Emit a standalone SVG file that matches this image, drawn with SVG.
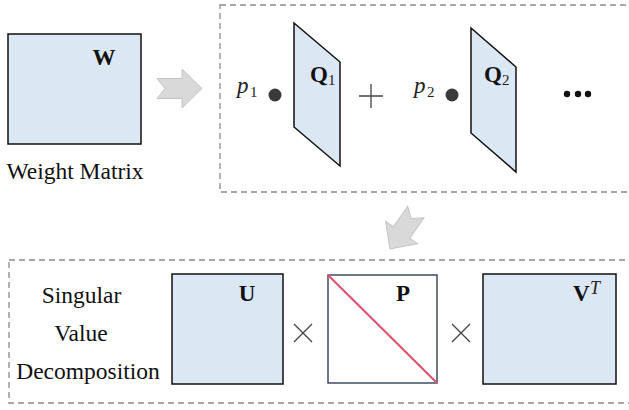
<svg xmlns="http://www.w3.org/2000/svg" width="629" height="410" viewBox="0 0 629 410">
<defs>
<style>
.mat{fill:#dce7f4;stroke:#111;stroke-width:1.5}
.dash{fill:none;stroke:#8a8a8a;stroke-width:1.3;stroke-dasharray:6 4}
.arrow{fill:#d9d9d9;stroke:#c4c4c4;stroke-width:1}
.op{stroke:#444;stroke-width:1.3;fill:none}
text{font-family:'Liberation Serif','DejaVu Serif',serif;fill:#111}
.txt{font-size:23.5px}
.lbl{font-weight:bold;font-size:23px}
.mth{font-style:italic;font-size:23px;fill:#222}
.sub{font-size:15px;fill:#222}
</style>
<path id="chev" d="M-25,-10 L0,-10 L0,-19.5 L20,0 L0,19.5 L0,10 L-25,10 L-17,0 Z"/>
</defs>

<g id="frames">
<rect class="dash" x="220" y="5" width="415" height="187"/>
<rect class="dash" x="9" y="260" width="626" height="143"/>
</g>

<g id="weight-matrix">
<rect class="mat" x="8" y="34" width="133" height="110"/>
<text class="lbl" x="104" y="65" text-anchor="middle">W</text>
<text class="txt" x="75" y="179" text-anchor="middle">Weight Matrix</text>
</g>

<g id="connectors">
<use href="#chev" class="arrow" transform="translate(182,88.5)"/>
<use href="#chev" class="arrow" transform="translate(401.5,232.5) rotate(125)"/>
</g>

<g id="q1">
<text class="mth" x="237" y="93">p</text><text class="sub" x="250" y="97">1</text>
<circle cx="275" cy="95" r="6.5" fill="#3a3a3a"/>
<polygon class="mat" points="294,23 340,62 340,166 294,127"/>
<text class="lbl" x="310" y="82">Q</text><text class="sub" x="328" y="85">1</text>
</g>

<g id="plus">
<path class="op" d="M359,96 H383 M371,84 V108"/>
</g>

<g id="q2">
<text class="mth" x="414" y="93">p</text><text class="sub" x="427" y="97">2</text>
<circle cx="452" cy="95" r="6.5" fill="#3a3a3a"/>
<polygon class="mat" points="471,28 516,67 516,172 471,133"/>
<text class="lbl" x="484" y="82">Q</text><text class="sub" x="502" y="85">2</text>
</g>

<g id="ellipsis" fill="#111">
<circle cx="567" cy="94" r="3.2"/>
<circle cx="578" cy="94" r="3.2"/>
<circle cx="588" cy="94" r="3.2"/>
</g>

<g id="svd-label">
<text class="txt" x="81.5" y="303" text-anchor="middle">Singular</text>
<text class="txt" x="81" y="341" text-anchor="middle">Value</text>
<text class="txt" x="88" y="379" text-anchor="middle">Decomposition</text>
</g>

<g id="u">
<rect class="mat" x="172" y="274" width="111" height="110"/>
<text class="lbl" x="247" y="301" text-anchor="middle">U</text>
</g>

<g id="times1">
<path class="op" d="M294,324 L312,342 M312,324 L294,342"/>
</g>

<g id="p">
<rect x="328" y="275" width="109" height="108" fill="#fff" stroke="#24314f" stroke-width="1.3"/>
<line x1="328" y1="275" x2="437" y2="383" stroke="#e0506a" stroke-width="2"/>
<text class="lbl" x="403" y="301" text-anchor="middle">P</text>
</g>

<g id="times2">
<path class="op" d="M452,324 L470,342 M470,324 L452,342"/>
</g>

<g id="vt">
<rect class="mat" x="483" y="274" width="133" height="110"/>
<text class="lbl" x="573" y="301">V</text>
<text class="mth" x="590" y="294" style="font-size:18px">T</text>
</g>
</svg>
